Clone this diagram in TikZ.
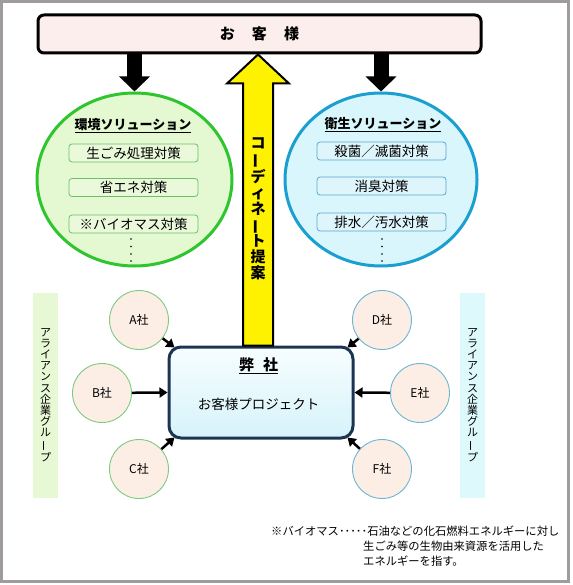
\documentclass[tikz,border=0pt]{standalone}
\usepackage{fontspec}
\setmainfont{Noto Sans CJK JP}
\usetikzlibrary{arrows.meta,calc,shapes.geometric}
\newcommand{\vchoon}{\rotatebox[origin=c]{90}{ー}}
\definecolor{framegray}{HTML}{A09C9C}
\definecolor{custfill}{HTML}{FDEEEE}
\definecolor{ringgreen}{HTML}{2EC52E}
\definecolor{fillgreen}{HTML}{E4F9D2}
\definecolor{ringblue}{HTML}{1A9FD0}
\definecolor{fillblue}{HTML}{D8F6FB}
\definecolor{subgreenD}{HTML}{6CC06C}
\definecolor{subgreenF}{HTML}{E9F9DA}
\definecolor{subblueD}{HTML}{5BA8CF}
\definecolor{subblueF}{HTML}{DDF5FB}
\definecolor{compfill}{HTML}{FCEEE5}
\definecolor{compgreen}{HTML}{7DCB7D}
\definecolor{compblue}{HTML}{6DB5D6}
\definecolor{bandgreen}{HTML}{E6F8D4}
\definecolor{bandblue}{HTML}{DDF9FC}
\definecolor{navy}{HTML}{1D3553}
\definecolor{boxtop}{HTML}{F7FDFF}
\definecolor{boxbot}{HTML}{D6F3FA}
\begin{document}
\begin{tikzpicture}[x=1pt,y=-1pt,
  custbox/.style={draw=black, line width=3pt, fill=custfill, rounded corners=6pt,
    minimum width=443pt, minimum height=38pt, inner sep=0pt,
    font=\fontsize{15}{18}\selectfont\bfseries},
  ring/.style={ellipse, line width=3pt, inner sep=0pt},
  subbox/.style={rounded corners=3pt, line width=0.8pt, minimum width=129pt,
    minimum height=18pt, inner sep=0pt, font=\fontsize{13.5}{16}\selectfont},
  ttl/.style={font=\fontsize{13}{16}\selectfont\bfseries, inner sep=0pt},
  comp/.style={circle, fill=compfill, line width=0.9pt, minimum size=59pt,
    inner sep=0pt, font=\fontsize{12}{14}\selectfont},
  band/.style={minimum width=25pt, minimum height=205pt, inner sep=0pt},
  bandtext/.style={align=center, inner sep=0pt, font=\fontsize{11}{11.2}\selectfont},
  conn/.style={line width=2.5pt, -{Triangle[width=10pt,length=8pt]}},
  bigdown/.style={line width=15pt, -{Triangle[width=30pt,length=15pt]}},
  note/.style={anchor=west, inner sep=0pt, font=\fontsize{11.3}{13}\selectfont}
]
\useasboundingbox (0,0) rectangle (572,585);
\fill[white] (0,0) rectangle (572,585);
\draw[framegray, line width=3pt] (1.5,1.5) rectangle (568.5,581.5);

% customer box
\node[custbox] (cust) at (259.5,34) {お\hspace{1.15em}客\hspace{1.15em}様};

% solution circles
\node[ring, draw=ringgreen, fill=fillgreen, minimum width=195pt, minimum height=173pt] (env) at (134.5,179.5) {};
\node[ring, draw=ringblue, fill=fillblue, minimum width=192pt, minimum height=173pt] (san) at (381,179.5) {};

% black arrows
\draw[bigdown] (cust.south -| env.north) -- (env.north);
\draw[bigdown] (cust.south -| san.north) -- (san.north);

% green circle content
\node[ttl] (envt) at (133,126) {\underline{環境ソリューション}};
\node[subbox, draw=subgreenD, fill=subgreenF] (e1) at (133.5,153) {生ごみ処理対策};
\node[subbox, draw=subgreenD, fill=subgreenF] (e2) at (133.5,187.5) {省エネ対策};
\node[subbox, draw=subgreenD, fill=subgreenF] (e3) at (133.5,224) {※バイオマス対策};
\foreach \yy in {239,246.5,254,261} \fill (131,\yy) circle (0.9pt);

% blue circle content
\node[ttl] (sant) at (383,125) {\underline{衛生ソリューション}};
\node[subbox, draw=subblueD, fill=subblueF] (s1) at (381.5,151) {殺菌／滅菌対策};
\node[subbox, draw=subblueD, fill=subblueF] (s2) at (381.5,186) {消臭対策};
\node[subbox, draw=subblueD, fill=subblueF] (s3) at (381.5,222) {排水／汚水対策};
\foreach \yy in {239,246.5,254,261} \fill (382,\yy) circle (0.9pt);

% bands
\node[band, fill=bandgreen] (lband) at (45.5,395) {};
\node[bandtext] (lbt) at (45.5,395) {ア\\ラ\\イ\\ア\\ン\\ス\\企\\業\\グ\\ル\\\vchoon\\プ};
\node[band, fill=bandblue] (rband) at (472.5,395) {};
\node[bandtext] (rbt) at (472.5,395) {ア\\ラ\\イ\\ア\\ン\\ス\\企\\業\\グ\\ル\\\vchoon\\プ};

% main box
\node[draw=navy, line width=3pt, rounded corners=12pt, top color=boxtop, bottom color=boxbot,
  minimum width=184pt, minimum height=91pt, inner sep=0pt] (box) at (261,392.5) {};
\node[inner sep=0pt, font=\fontsize{15}{18}\selectfont\bfseries] (boxt) at (258.5,366) {\underline{弊\hspace{0.6em}社}};
\node[inner sep=0pt, font=\fontsize{13.5}{16}\selectfont] (boxs) at (258.5,404.5) {お客様プロジェクト};

% yellow arrow
\coordinate (ytip) at (cust.south -| 258,0);
\coordinate (ybase) at (box.north -| 258,0);
\fill[yellow, draw=black, line width=2pt, line join=miter]
  ($(ybase)+(-15,0)$) -- ($(ytip)+(-15,29)$) -- ($(ytip)+(-31,29)$) -- (ytip)
  -- ($(ytip)+(31,29)$) -- ($(ytip)+(15,29)$) -- ($(ybase)+(15,0)$) -- cycle;
\node[align=center, inner sep=0pt, font=\fontsize{15}{16}\selectfont\bfseries] (coord) at (258,208.5)
  {コ\\\vchoon\\デ\\ィ\\ネ\\\vchoon\\ト\\提\\案};

% companies
\node[comp, draw=compgreen] (A) at (139,320) {A社};
\node[comp, draw=compgreen] (B) at (102,393) {B社};
\node[comp, draw=compgreen] (C) at (139,469) {C社};
\node[comp, draw=compblue] (D) at (382,320) {D社};
\node[comp, draw=compblue] (E) at (420,393) {E社};
\node[comp, draw=compblue] (F) at (382,469) {F社};

\draw[conn] (A) -- ($(box.north west)+(7,2)$);
\draw[conn] (B) -- (box.west);
\draw[conn] (C) -- ($(box.south west)+(7,-2)$);
\draw[conn] (D) -- ($(box.north east)+(-7,2)$);
\draw[conn] (E) -- (box.east);
\draw[conn] (F) -- ($(box.south east)+(-7,-2)$);

% footnote
\node[note] (n1) at (271,531) {※バイオマス･････石油などの化石燃料エネルギーに対し};
\node[note] (n2) at (363,546) {生ごみ等の生物由来資源を活用した};
\node[note] (n3) at (363,561) {エネルギーを指す。};
\end{tikzpicture}
\end{document}
